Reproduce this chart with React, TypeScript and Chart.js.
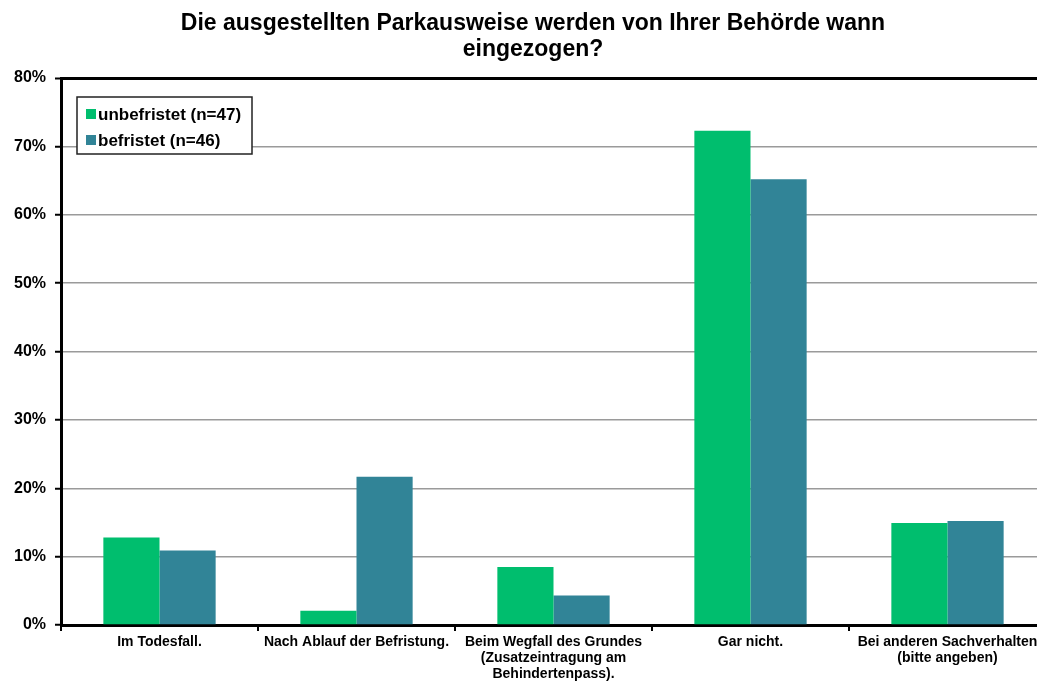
import { useEffect, useRef } from 'react';
import { Chart, registerables } from 'chart.js';

Chart.register(...registerables);

const TITLE_LINES = ['Die ausgestellten Parkausweise werden von Ihrer Behörde wann', 'eingezogen?'];
const CATEGORIES = [
  ['Im Todesfall.'],
  ['Nach Ablauf der Befristung.'],
  ['Beim Wegfall des Grundes', '(Zusatzeintragung am', 'Behindertenpass).'],
  ['Gar nicht.'],
  ['Bei anderen Sachverhalten', '(bitte angeben)'],
];
const SERIES_NAMES = ['unbefristet (n=47)', 'befristet (n=46)'];
const UNBEFRISTET = [12.8, 2.1, 8.5, 72.3, 14.9];
const BEFRISTET = [10.9, 21.7, 4.3, 65.2, 15.2];
const Y_MIN = 0;
const Y_MAX = 80;
const Y_STEP = 10;

const FONT = '"Liberation Sans", Arial, Helvetica, sans-serif';
const GREEN = '#00BE6E';
const TEAL = '#318497';

const titlePlugin = {
  id: 'customTitle',
  afterDraw(chart: any) {
    const ctx = chart.ctx;
    ctx.save();
    ctx.font = `bold 23px ${FONT}`;
    ctx.fillStyle = '#000';
    ctx.textAlign = 'center';
    ctx.textBaseline = 'alphabetic';
    TITLE_LINES.forEach((line, i) => ctx.fillText(line, 533, 30 + i * 26));
    ctx.restore();
  },
};

const legendPlugin = {
  id: 'boxLegend',
  afterDraw(chart: any) {
    const ctx = chart.ctx;
    const x = 77;
    const y = 97;
    const w = 175;
    const h = 57;
    ctx.save();
    ctx.fillStyle = '#fff';
    ctx.fillRect(x, y, w, h);
    ctx.strokeStyle = '#222';
    ctx.lineWidth = 1.5;
    ctx.strokeRect(x, y, w, h);
    ctx.font = `bold 17px ${FONT}`;
    ctx.textBaseline = 'middle';
    ctx.textAlign = 'left';
    chart.data.datasets.forEach((ds: any, i: number) => {
      const cy = y + 17 + i * 26;
      ctx.fillStyle = ds.backgroundColor;
      ctx.fillRect(x + 9, cy - 5, 10, 10);
      ctx.fillStyle = '#000';
      ctx.fillText(ds.label, x + 21, cy + 1);
    });
    ctx.restore();
  },
};

export default function App() {
  const ref = useRef<HTMLCanvasElement | null>(null);

  useEffect(() => {
    if (!ref.current) return;
    const chart = new Chart(ref.current, {
      type: 'bar',
      data: {
        labels: CATEGORIES,
        datasets: [
          { label: SERIES_NAMES[0], data: UNBEFRISTET, backgroundColor: GREEN, borderWidth: 0 },
          { label: SERIES_NAMES[1], data: BEFRISTET, backgroundColor: TEAL, borderWidth: 0 },
        ],
      },
      options: {
        responsive: false,
        animation: false,
        layout: { padding: { top: 78, left: 0, right: 4, bottom: 0 } },
        datasets: { bar: { categoryPercentage: 0.57, barPercentage: 1.0 } },
        plugins: {
          legend: { display: false },
          title: { display: false },
          tooltip: { enabled: false },
        },
        scales: {
          x: {
            offset: true,
            afterFit: (s: any) => { s.height = 59; },
            grid: {
              display: true,
              offset: true,
              drawOnChartArea: false,
              drawTicks: true,
              tickLength: 6,
              color: '#000',
              lineWidth: 2,
            },
            border: { display: true, color: '#000', width: 3 },
            ticks: {
              autoSkip: false,
              maxRotation: 0,
              minRotation: 0,
              padding: 3,
              color: '#000',
              font: { family: FONT, size: 14, weight: 'bold', lineHeight: 1.15 },
            },
          },
          y: {
            min: Y_MIN,
            max: Y_MAX,
            afterFit: (s: any) => { s.width = 61; },
            grid: {
              color: (c: any) => (c.tick && c.tick.value === Y_MAX ? '#000' : c.tick && c.tick.value === Y_MIN ? 'rgba(0,0,0,0)' : '#9a9a9a'),
              lineWidth: (c: any) => (c.tick && c.tick.value === Y_MAX ? 3 : 1.5),
              tickColor: '#000',
              tickWidth: 2,
              tickLength: 6,
            },
            border: { display: true, color: '#000', width: 3 },
            ticks: {
              stepSize: Y_STEP,
              padding: 9,
              color: '#000',
              font: { family: FONT, size: 16, weight: 'bold' },
              callback: (v: any) => `${v}%`,
            },
          },
        },
      },
      plugins: [titlePlugin, legendPlugin],
    });
    return () => chart.destroy();
  }, []);

  return (
    <div style={{ position: 'fixed', left: 0, top: 0, width: 1037, height: 684, overflow: 'hidden', background: '#fff' }}>
      <canvas ref={ref} width={1050} height={684} style={{ display: 'block', width: 1050, height: 684 }} />
    </div>
  );
}
